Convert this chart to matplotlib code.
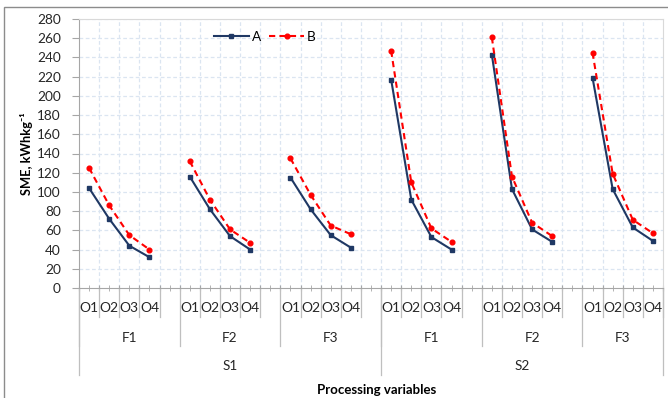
import matplotlib.pyplot as plt
import matplotlib.transforms as mtransforms
from matplotlib.patches import Rectangle
import numpy as np

plt.rcParams['font.family'] = ['Lato', 'DejaVu Sans']

samples = ['S1', 'S2']
formulations = ['F1', 'F2', 'F3']
orders = ['O1', 'O2', 'O3', 'O4']
# one row per (sample, formulation) group, columns O1..O4
a_vals = [[104, 72, 44, 32],
          [116, 82, 54, 40],
          [115, 82, 55, 42],
          [217, 92, 53, 40],
          [243, 103, 61, 48],
          [219, 103, 63, 49]]
b_vals = [[125, 86, 55, 40],
          [132, 92, 61, 47],
          [135, 97, 65, 56],
          [247, 110, 62, 48],
          [261, 116, 68, 54],
          [245, 119, 71, 57]]

n_o = len(orders)
slot = n_o + 1  # 4 categories + one blank category between groups
n_groups = len(samples) * len(formulations)
n_cat = n_groups * slot - 1

# build series with gaps (NaN) at the blank categories
xa, ya, yb = [], [], []
for g in range(n_groups):
    for j in range(n_o):
        xa.append(g * slot + j)
        ya.append(a_vals[g][j])
        yb.append(b_vals[g][j])
    if g < n_groups - 1:
        xa.append(g * slot + n_o)
        ya.append(np.nan)
        yb.append(np.nan)

fig = plt.figure(figsize=(6.68, 3.98), dpi=100)
ax = fig.add_axes([79/668, 1-288/398, 584/668, 269/398])

grid_c = '#dbe5f1'
ax.set_xlim(-0.5, n_cat - 0.5)
ax.set_ylim(0, 280)
ax.set_yticks(np.arange(0, 281, 20))
for y in np.arange(20, 281, 20):
    ax.axhline(y, color=grid_c, lw=0.9, ls=(0, (3, 2)), zorder=0)
for x in np.arange(0.5, n_cat - 0.5, 1):
    ax.axvline(x, color=grid_c, lw=0.9, ls=(0, (3, 2)), zorder=0)

ax.plot(xa, ya, color='#1f3864', lw=1.5, marker='s', ms=3.2, label='A', zorder=3)
ax.plot(xa, yb, color='#ff0000', lw=1.5, ls=(0, (3, 2)), marker='o', ms=3.4,
        label='B', zorder=3)

for s in ['top', 'right']:
    ax.spines[s].set_color('#d9d9d9')
for s in ['left', 'bottom']:
    ax.spines[s].set_color('#a6a6a6')

ax.tick_params(axis='y', length=5, color='#a6a6a6', labelsize=9.8, pad=8,
               labelcolor='#262626')
ax.set_xticks(np.arange(-0.5, n_cat, 1))
ax.set_xticks(np.arange(0, n_cat, 1), minor=True)
ax.set_xticklabels([])
ax.tick_params(axis='x', which='both', direction='inout', length=5,
               color='#a6a6a6')

trans = mtransforms.blended_transform_factory(ax.transData, ax.transAxes)
line_c = '#bfbfbf'
y_o, y_f, y_s = -29/269, -58/269, -87/269

# order labels and their separators
for g in range(n_groups):
    for j, o in enumerate(orders):
        x = g * slot + j
        ax.text(x, -20/269, o, transform=trans, ha='center', va='center',
                fontsize=10, color='#262626')
        ax.plot([x + 0.5, x + 0.5], [0, y_o], transform=trans, color=line_c,
                lw=0.9, clip_on=False)

# formulation labels and separators
for g in range(n_groups):
    left = g * slot - 0.5
    right = min(left + slot, n_cat - 0.5)
    ax.text((left + right) / 2, -50/269, formulations[g % len(formulations)],
            transform=trans, ha='center', va='center', fontsize=9.8,
            color='#262626')
    ax.plot([left, left], [0, y_f], transform=trans, color=line_c, lw=0.9,
            clip_on=False)

# sample labels and separators
per_s = len(formulations) * slot
for i, s in enumerate(samples):
    left = i * per_s - 0.5
    right = min(left + per_s, n_cat - 0.5)
    ax.text((left + right) / 2, -78/269, s, transform=trans, ha='center',
            va='center', fontsize=9.8, color='#262626')
    ax.plot([left, left], [0, y_s], transform=trans, color=line_c, lw=0.9,
            clip_on=False)
ax.plot([n_cat - 0.5, n_cat - 0.5], [0, y_s], transform=trans, color=line_c,
        lw=0.9, clip_on=False)

ax.text(0.51, -102/269, 'Processing variables', transform=ax.transAxes,
        ha='center', va='center', fontsize=9.5, fontweight='bold')
ax.set_ylabel('SME, kWhkg⁻¹', fontsize=9.3, fontweight='bold', labelpad=3)

ax.legend(loc='center', bbox_to_anchor=(0.318, 0.933), ncol=2, frameon=False,
          fontsize=9.8, handlelength=2.6, handletextpad=0.2, columnspacing=0.6,
          borderpad=0)

# outer chart frame
fig.add_artist(Rectangle((4/668, -0.1), 1.2, 0.1 + (1 - 7/398),
                         transform=fig.transFigure, fill=False,
                         edgecolor='#8c8c8c', lw=1))

fig.savefig('out.png', dpi=100)
